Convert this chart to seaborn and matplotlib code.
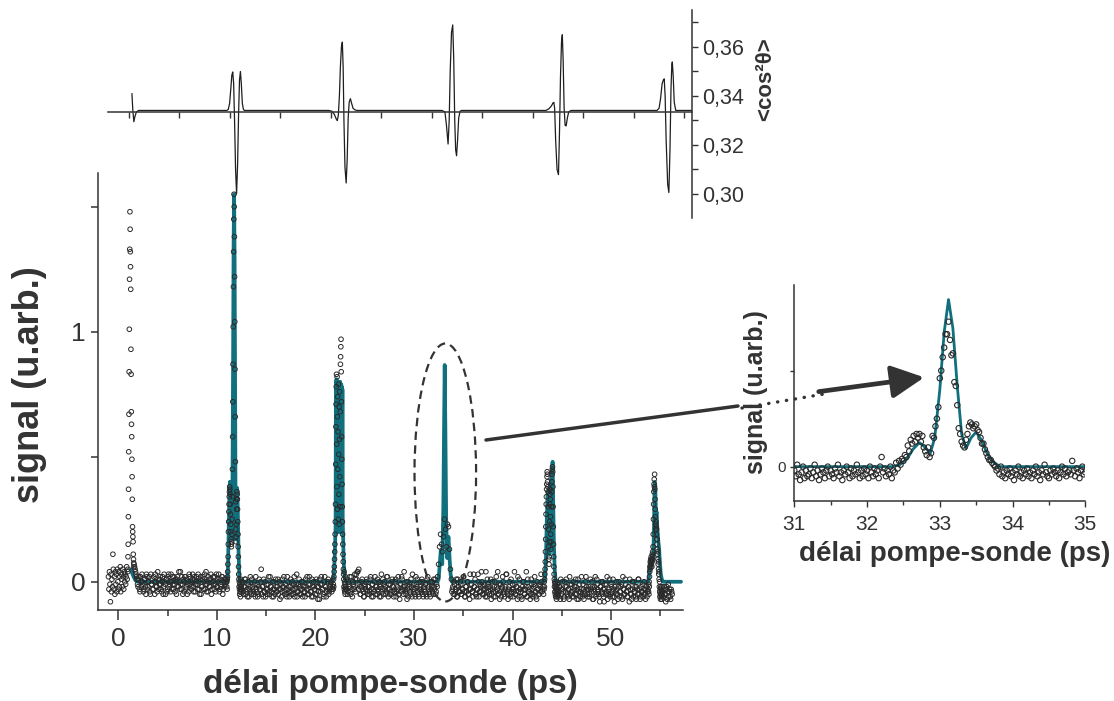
import numpy as np
import matplotlib
matplotlib.use("Agg")
import matplotlib.pyplot as plt
from matplotlib.patches import Ellipse, FancyArrowPatch
from matplotlib.lines import Line2D
from matplotlib.ticker import MultipleLocator, FixedLocator, FuncFormatter, NullFormatter
import seaborn as sns
import pandas as pd

# ---------------------------------------------------------------- data
# Pump-probe scan, stored as blocks: each block starts at a delay (ps),
# uses a fixed step (ps) and holds the measured signal values.
pre_zero = [0.02, -0.03, 0.04, -0.01, -0.08, 0.03, -0.04, 0.01, -0.02, 0.11,
            0.05, -0.03, 0.02, -0.05, 0.04, -0.01, 0.03, -0.04, 0.05, 0.00,
            -0.03, 0.04, -0.02, 0.02, 0.06, -0.04, 0.03, 0.01, -0.02, 0.05,
            0.02, -0.03, 0.04, 0.00, 0.03, -0.01, 0.02, 0.06, 0.01, 0.04]
zero_spike = [0.05, 0.10, 0.15, 0.26, 0.37, 0.52, 0.67, 0.84, 1.01, 1.21,
              1.33, 1.48, 1.41, 1.32, 1.26, 1.17, 0.93, 0.83, 0.68, 0.63,
              0.58, 0.49, 0.42, 0.33, 0.22, 0.20, 0.18, 0.16, 0.11, 0.09,
              0.075, 0.06]
base_1 = [0.07, 0.05, 0.03, 0.01, -0.02, 0.02, -0.04, 0.00, 0.03, -0.01,
          -0.03, 0.01, -0.05, 0.02, -0.02, 0.00, -0.04, 0.03, -0.01, -0.03,
          0.02, -0.05, 0.00, -0.02, 0.04, -0.03, 0.01, -0.01, -0.04, 0.02,
          -0.02, 0.00, -0.05, 0.01, -0.03, 0.03, -0.01, -0.04, 0.00, 0.02,
          -0.03, -0.01, 0.01, -0.05, 0.02, -0.02, 0.00, 0.04, -0.03, -0.01,
          0.01, -0.04, 0.02, -0.02, -0.05, 0.00, 0.03, -0.01, -0.03, 0.01,
          -0.02, 0.02, -0.04, 0.00, -0.01, 0.03, -0.03, 0.01, -0.05, -0.02,
          0.02, 0.00, -0.03, 0.04, -0.01, -0.04, 0.01, -0.02, 0.03, -0.03,
          0.00, -0.01, 0.02, -0.04, -0.02, 0.01, 0.03, -0.03, -0.01, 0.02,
          -0.05, 0.00, -0.02, 0.01]
base_1b = [0.06, 0.04, 0.02, -0.01, 0.01, -0.03, 0.02, -0.02, 0.00, -0.04,
           0.01, -0.02, 0.03, -0.03, 0.00, 0.02, -0.05, -0.01, 0.01, -0.03,
           0.00, 0.03, -0.02, -0.04, 0.01, -0.01, 0.02, -0.03, 0.00, -0.05,
           0.03, -0.01, 0.01, -0.04, 0.02, -0.02, 0.00, 0.03, -0.03, -0.01,
           0.02, -0.04, 0.00, 0.01, -0.02, 0.04, -0.03, -0.01, 0.02, -0.05,
           0.00, 0.02, -0.03, 0.01, -0.01, -0.04, 0.02, 0.00, -0.02, 0.03,
           -0.04, 0.01, -0.01, 0.02, -0.03, 0.00, -0.05, 0.02, -0.02, 0.01,
           -0.03, 0.03, -0.01, -0.04, 0.00, 0.02, -0.02, 0.01, -0.05, 0.00,
           0.02, -0.03, -0.01, 0.03, -0.02, 0.00, -0.04, 0.01, -0.02, 0.02,
           -0.03, 0.01, -0.01, 0.00]
rev_1 = [-0.02, 0.00, -0.03, 0.01, 0.02, 0.04, 0.07, 0.10, 0.15, 0.20,
         0.24, 0.28, 0.31, 0.34, 0.36, 0.38, 0.37, 0.35, 0.31, 0.27,
         0.23, 0.20, 0.17, 0.15, 0.14, 0.16, 0.19, 0.25, 0.34, 0.45,
         0.58, 0.72, 0.87, 1.02, 1.18, 1.32, 1.45, 1.55, 1.50, 1.38,
         1.22, 1.04, 0.85, 0.66, 0.48, 0.32, 0.21, 0.16, 0.18, 0.23,
         0.29, 0.33, 0.36, 0.35, 0.33, 0.29, 0.24, 0.19, 0.14, 0.10,
         0.06, 0.03, 0.01, -0.02, 0.00, -0.03, -0.05, -0.01, -0.04, -0.02,
         -0.06, -0.03, 0.01, -0.04, -0.02]
base_2 = [-0.03, 0.00, -0.05, -0.02, 0.01, -0.04, -0.06, -0.01, -0.03, 0.02,
          -0.05, -0.02, -0.04, 0.00, -0.06, -0.03, -0.01, -0.05, 0.01, -0.03,
          0.05, -0.02, -0.06, -0.04, 0.00, -0.03, -0.05, -0.01, -0.04, 0.02,
          -0.02, -0.06, -0.03, 0.00, -0.05, -0.02, -0.04, 0.01, -0.03, -0.07,
          -0.01, -0.04, -0.02, 0.02, -0.05, -0.03, -0.06, 0.00, -0.02, -0.04,
          0.01, -0.05, -0.03, -0.01, -0.06, -0.02, 0.03, -0.04, -0.01, -0.05,
          -0.03, 0.00, -0.06, -0.02, -0.04, 0.01, -0.03, -0.05, -0.01, 0.02,
          -0.04, -0.06, -0.02, 0.00, -0.03, -0.05, 0.01, -0.02, -0.04, -0.07,
          -0.01, 0.02, -0.03, -0.05, 0.00, -0.02, -0.06, -0.03, 0.01, -0.04,
          -0.02, 0.00, -0.03]
base_2b = [-0.01, -0.04, -0.02, 0.01, -0.05, -0.03, 0.00, -0.06, -0.02, -0.04,
           0.01, -0.03, -0.05, -0.01, 0.02, -0.04, -0.06, -0.02, -0.03, 0.00,
           -0.05, -0.02, 0.01, -0.04, -0.06, -0.01, -0.03, 0.02, -0.05, -0.02,
           -0.04, 0.00, -0.06, -0.03, 0.01, -0.04, -0.02, -0.05, 0.00, -0.03,
           -0.06, 0.01, -0.02, -0.04, -0.01, -0.05, 0.02, -0.03, -0.06, -0.02,
           -0.04, 0.00, -0.05, 0.02, -0.03, -0.01, -0.06, -0.04, 0.01, -0.02,
           -0.05, -0.03, 0.00, -0.04, -0.06, -0.02, 0.02, -0.03, -0.05, -0.01,
           -0.04, 0.01, -0.06, -0.02, -0.03, 0.00, -0.05, -0.07, -0.02, 0.01,
           -0.04, -0.01, -0.03, -0.06, 0.02, -0.02, -0.04, 0.00, -0.05, -0.03,
           -0.01, -0.04, -0.02]
rev_2 = [-0.03, -0.01, 0.01, -0.02, 0.02, 0.04, 0.06, 0.09, 0.12, 0.15,
         0.19, 0.24, 0.31, 0.47, 0.62, 0.71, 0.78, 0.83, 0.55, 0.38,
         0.82, 0.66, 0.29, 0.74, 0.45, 0.60, 0.25, 0.79, 0.51, 0.35,
         0.70, 0.23, 0.57, 0.76, 0.42, 0.30, 0.68, 0.87, 0.90, 0.94,
         0.97, 0.84, 0.72, 0.58, 0.49, 0.39, 0.30, 0.24, 0.19, 0.15,
         0.11, 0.08, 0.05, 0.03, 0.01, -0.02, 0.04, -0.03, 0.00, -0.04,
         -0.01, -0.05, -0.02, 0.02, -0.03]
base_3 = [-0.02, 0.01, -0.04, -0.01, 0.02, -0.05, -0.03, 0.00, -0.02, 0.03,
          -0.04, 0.01, 0.04, 0.05, -0.02, -0.05, 0.00, -0.03, -0.06, -0.01,
          -0.03, 0.01, -0.05, -0.02, -0.04, 0.02, -0.06, -0.01, -0.03, 0.00,
          -0.05, -0.02, 0.01, -0.04, -0.06, -0.01, 0.03, -0.03, -0.05, 0.00,
          -0.02, -0.04, 0.02, -0.06, -0.03, -0.01, -0.05, 0.01, -0.02, -0.04,
          0.00, -0.06, -0.03, 0.02, -0.05, -0.01, -0.04, 0.01, -0.02, 0.04,
          -0.03, -0.05, -0.07, 0.00, -0.02, -0.04, 0.01, -0.06, -0.03, -0.01,
          -0.05, 0.02, -0.02, -0.04, -0.06, 0.00, -0.03, 0.01, -0.05, -0.02,
          -0.04, -0.01, -0.06, 0.02, -0.03, -0.05, 0.00, -0.02, -0.04, 0.01,
          -0.03, -0.05, -0.01, 0.02, 0.07, 0.14, 0.19, 0.15, 0.12, 0.18,
          0.25, 0.21, 0.14, 0.23, 0.22, 0.13, 0.05, 0.01, -0.03, -0.05,
          -0.01, -0.04, 0.01, -0.06, -0.02, -0.04, 0.00, -0.05, -0.03, 0.02,
          -0.04, -0.06, -0.02, 0.00, -0.05, -0.03, 0.03, -0.01, -0.04, -0.06,
          -0.02, 0.01, -0.05, -0.03, 0.03, -0.06, -0.01, -0.04, 0.00, -0.02,
          -0.05, -0.03, 0.04, -0.06, -0.01, -0.04, -0.02, 0.01, -0.05, -0.03,
          -0.06, 0.00, -0.04, -0.02, 0.04, -0.05, -0.07, -0.01, -0.03, 0.02,
          -0.04, -0.06, -0.02, 0.03, -0.05, -0.03, 0.00, -0.06, -0.04, -0.01,
          -0.03, 0.04, -0.05, -0.02, -0.07, -0.04, 0.01, -0.03, -0.06, -0.02,
          0.00, -0.05, -0.03, 0.04, -0.06, -0.02, -0.04, -0.07, 0.01, -0.03,
          -0.05, -0.01, -0.04, -0.06, 0.00, -0.03, -0.05, -0.02, 0.03, -0.04,
          -0.02]
base_3b = [-0.03, -0.05, 0.00, -0.02, -0.04, 0.02, -0.06, -0.01, -0.03, 0.01,
           0.03, 0.04, -0.03, -0.01, -0.05, -0.02, 0.01, -0.04, -0.06, -0.02,
           0.00, -0.04, -0.02, -0.05, 0.01, -0.03, -0.01, -0.06, -0.04, 0.02,
           -0.02, -0.05, -0.03, 0.00, -0.02, -0.06, -0.04, 0.01, -0.01, -0.03,
           -0.05, 0.02, -0.03, -0.01, -0.05, -0.04, 0.00, -0.02, -0.06, -0.03,
           0.01, -0.04, -0.02, -0.05, -0.07, -0.01, 0.02, -0.03, -0.05, -0.02,
           -0.04, 0.00, -0.03, -0.06, -0.01, -0.05, -0.02, 0.03, -0.04, -0.03,
           -0.06, -0.01, 0.01, -0.05, -0.03, -0.02, -0.04, 0.00, -0.06, -0.03,
           -0.01, -0.05, 0.01, -0.02, -0.04, -0.06, -0.03, 0.00, -0.05, -0.02,
           0.01, -0.04, -0.02]
base_3c = [-0.04, -0.02, 0.00, -0.05, -0.03, -0.06, 0.01, -0.02, -0.04, -0.01,
           -0.05, -0.03, 0.02, -0.06, -0.02, -0.04, 0.00, -0.05, -0.07, -0.03,
           -0.01, -0.04, 0.03, -0.02, -0.05, -0.06, -0.03, 0.00, -0.04, -0.02,
           0.04, -0.05, -0.03, -0.01, -0.06, -0.04, 0.01, -0.02, -0.05, -0.03,
           -0.07, 0.00, -0.04, -0.02, -0.06, 0.02, -0.03, -0.05, -0.01, -0.04,
           -0.06, -0.02, 0.00, -0.05, -0.03, 0.03, -0.04, -0.07, -0.02, -0.05,
           0.01, -0.03, -0.06, -0.04, -0.01, -0.05, -0.02, 0.02, -0.06, -0.03,
           -0.04, -0.07, 0.00, -0.03, -0.05, -0.02, -0.06, 0.01, -0.04, -0.03,
           -0.05, -0.01, -0.06, -0.02, 0.02, -0.04, -0.07, -0.03, -0.05, -0.01,
           -0.04, 0.00, -0.03, -0.05]
rev_4 = [-0.03, 0.00, -0.02, 0.01, 0.03, 0.05, 0.08, 0.12, 0.17, 0.22,
         0.27, 0.31, 0.34, 0.37, 0.39, 0.42, 0.44, 0.43, 0.40, 0.38,
         0.36, 0.30, 0.21, 0.14, 0.09, 0.07, 0.10, 0.16, 0.24, 0.31,
         0.35, 0.37, 0.33, 0.26, 0.19, 0.13, 0.16, 0.23, 0.30, 0.36,
         0.40, 0.43, 0.45, 0.46, 0.44, 0.38, 0.30, 0.22, 0.15, 0.10,
         0.06, 0.03, 0.01, -0.02, 0.00, -0.04, -0.01, -0.05, -0.02, -0.06,
         -0.03, 0.00, -0.04, -0.07, -0.02, -0.05, -0.03, -0.06, -0.01, -0.04]
base_4 = [-0.04, -0.06, -0.02, 0.01, -0.05, -0.03, -0.07, 0.00, -0.04, -0.02,
          -0.06, -0.03, 0.02, -0.05, -0.01, -0.04, -0.06, -0.02, 0.01, -0.05,
          -0.03, -0.07, -0.01, -0.04, 0.02, -0.06, -0.03, -0.05, 0.00, -0.02,
          -0.05, -0.03, -0.06, 0.01, -0.04, -0.02, -0.07, -0.03, 0.02, -0.05,
          -0.01, -0.04, -0.06, -0.02, 0.00, -0.05, -0.03, -0.08, -0.01, -0.04,
          0.02, -0.05, -0.03, -0.06, -0.01, -0.04, 0.01, -0.06, -0.02, -0.05,
          -0.03, -0.07, 0.00, -0.04, -0.02, -0.06, 0.02, -0.03, -0.05, -0.01,
          -0.04, -0.06, -0.02, 0.01, -0.05, -0.07, -0.03, 0.00, -0.04, -0.06,
          -0.02, -0.05, 0.01, -0.03, -0.06, -0.04, -0.01, -0.05, -0.03, -0.07,
          -0.02, -0.04]
base_4b = [-0.05, -0.02, -0.07, -0.03, 0.00, -0.04, -0.06, -0.02, 0.01, -0.05,
           -0.03, -0.07, -0.01, -0.04, -0.06, 0.00, -0.03, -0.05, -0.02, -0.07,
           0.01, -0.04, -0.06, -0.03, -0.05, -0.01, -0.07, -0.04, 0.02, -0.03,
           -0.06, -0.02, -0.05, -0.03, 0.00, -0.07, -0.04, -0.02, -0.06, 0.01,
           -0.03, -0.05, -0.08, -0.02, -0.04, 0.00, -0.06, -0.03, -0.05, -0.01,
           -0.07, -0.04, 0.01, -0.05, -0.02, -0.06, -0.03, -0.08, -0.04, 0.00,
           -0.05, -0.02, -0.06, -0.04, -0.01, -0.07, -0.03, -0.05, 0.01, -0.04,
           -0.06, -0.02, -0.08, -0.03, -0.05, 0.00, -0.06, -0.04, -0.02, -0.07,
           -0.03, 0.01, -0.05, -0.07, -0.02, -0.04, -0.06, 0.00, -0.05, -0.03,
           -0.06, -0.03]
rev_5 = [-0.04, -0.01, -0.05, 0.00, -0.02, 0.02, 0.04, 0.06, 0.05, 0.08,
         0.07, 0.09, 0.06, 0.08, 0.10, 0.07, 0.09, 0.06, 0.08, 0.11,
         0.09, 0.12, 0.10, 0.14, 0.19, 0.25, 0.31, 0.36, 0.39, 0.41,
         0.38, 0.43, 0.37, 0.33, 0.29, 0.26, 0.23, 0.21, 0.24, 0.22,
         0.19, 0.21, 0.17, 0.15, 0.17, 0.13, 0.11, 0.12, 0.09, 0.07,
         0.08, 0.05, 0.03, 0.04, 0.01, -0.02, 0.00, -0.04, -0.06, -0.03,
         -0.05, -0.07, -0.02, -0.05, -0.03, -0.06, -0.04, -0.07, -0.02, -0.05]
base_5 = [-0.04, -0.06, -0.02, -0.05, -0.03, -0.07, -0.01, -0.04, -0.06, -0.03, -0.05]
base_5b = [-0.06, -0.03, -0.05, -0.08, -0.02, -0.04, -0.06, -0.03, -0.07, -0.04]

scan_blocks = [pre_zero, zero_spike, base_1, base_1b, rev_1, base_2, base_2b, rev_2,
               base_3, base_3b, base_3c, rev_4, base_4, base_4b, rev_5, base_5, base_5b]
scan_starts = [-1.00, 0.96, 1.60, 1.65, 11.00, 12.50, 12.55, 21.80,
               23.10, 23.15, 33.85, 43.20, 44.60, 44.65, 53.80, 55.20, 55.25]
scan_steps = [0.05, 0.02, 0.10, 0.10, 0.02, 0.10, 0.10, 0.02,
              0.10, 0.10, 0.10, 0.02, 0.10, 0.10, 0.02, 0.10, 0.10]

# Fitted signal (vertices of the model curve)
fit_t = [1.30, 1.40, 1.55, 1.75, 1.95, 11.05, 11.12, 11.20, 11.28, 11.33, 11.38,
         11.45, 11.52, 11.58, 11.65, 11.70, 11.75, 11.80, 11.85, 11.90, 11.95,
         12.01, 12.06, 12.12, 12.20, 12.28, 12.35,
         21.75, 21.85, 21.95, 22.02, 22.05, 22.08, 22.11, 22.14, 22.17, 22.20,
         22.23, 22.26, 22.29, 22.32, 22.35, 22.38, 22.41, 22.44, 22.47, 22.50,
         22.53, 22.56, 22.59, 22.62, 22.65, 22.68, 22.71, 22.74, 22.77, 22.80,
         22.86, 22.92, 23.00, 23.10,
         32.40, 32.50, 32.60, 32.72, 32.87, 32.98, 33.05, 33.12, 33.19, 33.27,
         33.36, 33.50, 33.62, 33.72, 33.85,
         43.20, 43.30, 43.40, 43.48, 43.55, 43.60, 43.65, 43.70, 43.75, 43.80,
         43.85, 43.90, 43.95, 44.00, 44.07, 44.13, 44.20, 44.28, 44.36, 44.45,
         53.75, 53.85, 53.95, 54.02, 54.15, 54.28, 54.35, 54.42, 54.48, 54.56,
         54.62, 54.70, 54.80, 54.88, 54.95, 55.05, 55.15, 55.30, 57.10]
fit_v = [0.05, 0.035, 0.02, 0.005, 0.0, 0.0, 0.04, 0.20, 0.36, 0.40, 0.33,
         0.20, 0.17, 0.35, 0.90, 1.35, 1.55, 1.30, 0.80, 0.25, 0.17,
         0.30, 0.375, 0.30, 0.12, 0.02, 0.0,
         0.0, 0.02, 0.09, 0.18, 0.22, 0.80, 0.21, 0.81, 0.20, 0.80,
         0.21, 0.80, 0.20, 0.80, 0.21, 0.80, 0.20, 0.80, 0.21, 0.80,
         0.20, 0.79, 0.21, 0.79, 0.22, 0.78, 0.24, 0.77, 0.25, 0.20,
         0.10, 0.04, 0.01, 0.0,
         0.0, 0.01, 0.06, 0.125, 0.07, 0.30, 0.60, 0.867, 0.60, 0.25,
         0.095, 0.18, 0.09, 0.03, 0.0,
         0.0, 0.02, 0.10, 0.25, 0.34, 0.36, 0.12, 0.37, 0.11, 0.39,
         0.13, 0.41, 0.18, 0.44, 0.48, 0.32, 0.15, 0.05, 0.01, 0.0,
         0.0, 0.02, 0.06, 0.08, 0.08, 0.09, 0.20, 0.40, 0.39, 0.26,
         0.28, 0.21, 0.16, 0.13, 0.08, 0.03, 0.01, 0.0, 0.0]

# Fine scan around the third revival (31-35 ps, 0.02 ps step)
zoom_start, zoom_step = 31.0, 0.02
zoom_signal = [-0.02, -0.05, 0.01, -0.04, -0.07, -0.03, 0.00, -0.06, -0.02, -0.05,
               -0.04, -0.01, -0.06, -0.03, 0.01, -0.05, -0.02, -0.07, -0.04, -0.01,
               -0.03, -0.06, -0.02, 0.00, -0.05, -0.02, -0.04, -0.06, -0.01, -0.03,
               0.01, -0.05, -0.03, -0.07, -0.02, -0.04, 0.00, -0.03, -0.06, -0.01,
               -0.05, -0.02, -0.04, 0.01, -0.03, -0.06, -0.02, -0.05, -0.01, -0.04,
               -0.02, -0.06, 0.00, -0.03, -0.05, -0.01, -0.04, -0.02, -0.06, 0.00,
               0.05, -0.03, -0.01, -0.05, -0.02, -0.04, 0.00, -0.06, -0.02, -0.03,
               0.02, -0.01, 0.03, 0.01, 0.04, 0.03, 0.06, 0.05, 0.11, 0.08,
               0.14, 0.12, 0.16, 0.13, 0.17, 0.15, 0.17, 0.13, 0.16, 0.10,
               0.08, 0.06, 0.10, 0.05, 0.07, 0.16, 0.15, 0.21, 0.25, 0.31,
               0.46, 0.50, 0.57, 0.62, 0.69, 0.69, 0.755, 0.66, 0.58, 0.59,
               0.44, 0.42, 0.32, 0.20, 0.17, 0.13, 0.11, 0.10, 0.14, 0.17,
               0.21, 0.23, 0.22, 0.20, 0.21, 0.22, 0.19, 0.18, 0.15, 0.12,
               0.12, 0.09, 0.07, 0.05, 0.035, 0.035, 0.02, 0.01, 0.00, -0.02,
               -0.01, -0.04, 0.00, -0.05, -0.03, -0.06, -0.02, -0.04, -0.01, -0.05,
               -0.03, -0.07, -0.02, -0.04, 0.00, -0.05, -0.03, -0.06, -0.02, -0.04,
               -0.01, -0.05, -0.03, -0.06, -0.02, -0.04, 0.00, -0.05, -0.03, -0.07,
               -0.02, -0.04, 0.01, -0.03, -0.05, -0.06, -0.02, -0.04, -0.01, -0.03,
               -0.05, -0.02, -0.06, -0.03, 0.00, -0.04, -0.01, -0.05, -0.03, -0.02,
               -0.04, 0.03, -0.02, -0.05, -0.01, -0.03, -0.06, -0.02, 0.00, -0.04,
               -0.03]
zoom_fit_t = [31.00, 32.35, 32.45, 32.55, 32.63, 32.72, 32.80, 32.87, 32.93, 33.00,
              33.06, 33.12, 33.18, 33.24, 33.30, 33.36, 33.43, 33.50, 33.57, 33.65,
              33.73, 33.83, 35.00]
zoom_fit_v = [0.0, 0.0, 0.01, 0.04, 0.09, 0.125, 0.10, 0.07, 0.15, 0.40,
              0.70, 0.87, 0.72, 0.42, 0.17, 0.095, 0.15, 0.18, 0.14, 0.07,
              0.025, 0.0, 0.0]

# Alignment <cos^2 theta> computed over the same delay range
cos_t = [0.31, 0.40, 0.50, 0.60, 0.75, 0.96,
         9.70, 9.85, 9.98, 10.10, 10.20, 10.29, 10.38, 10.47, 10.57, 10.67, 10.77,
         10.87, 10.96, 11.05, 11.14, 11.24, 11.35, 11.45,
         19.80, 20.10, 20.35, 20.55, 20.64, 20.74, 20.85, 20.95, 21.05, 21.14, 21.22,
         21.30, 21.40, 21.52, 21.62, 21.72, 21.82, 21.94, 22.06, 22.20, 22.40, 22.60,
         31.00, 31.30, 31.45, 31.61, 31.72, 31.82, 31.95, 32.07, 32.17, 32.27, 32.36,
         32.45, 32.55, 32.66, 32.80, 32.94,
         41.30, 41.60, 41.85, 42.00, 42.08, 42.16, 42.26, 42.40, 42.54, 42.64, 42.74,
         42.84, 42.92, 43.00, 43.10, 43.20, 43.30, 43.42, 43.55, 43.79,
         52.30, 52.50, 52.65, 52.80, 52.92, 53.01, 53.10, 53.20, 53.35, 53.47, 53.58,
         53.68, 53.76, 53.81, 53.90, 54.00, 54.15, 55.76]
cos_v = [0.3410, 0.3340, 0.3295, 0.3315, 0.3335, 0.3341,
         0.3341, 0.3345, 0.3370, 0.3430, 0.3485, 0.3498, 0.3450, 0.3300, 0.3100, 0.3001, 0.3120,
         0.3330, 0.3465, 0.3500, 0.3450, 0.3370, 0.3345, 0.3341,
         0.3341, 0.3338, 0.3325, 0.3305, 0.3300, 0.3320, 0.3400, 0.3520, 0.3600, 0.3620, 0.3520,
         0.3300, 0.3110, 0.3045, 0.3140, 0.3310, 0.3375, 0.3389, 0.3370, 0.3350, 0.3343, 0.3341,
         0.3341, 0.3335, 0.3280, 0.3204, 0.3300, 0.3500, 0.3660, 0.3690, 0.3550, 0.3300, 0.3180,
         0.3156, 0.3220, 0.3310, 0.3338, 0.3341,
         0.3341, 0.3348, 0.3360, 0.3372, 0.3374, 0.3350, 0.3220, 0.3100, 0.3079, 0.3250, 0.3480,
         0.3620, 0.3650, 0.3550, 0.3350, 0.3280, 0.3278, 0.3310, 0.3335, 0.3341,
         0.3341, 0.3350, 0.3390, 0.3450, 0.3465, 0.3470, 0.3400, 0.3220, 0.3040, 0.3006, 0.3180,
         0.3430, 0.3525, 0.3539, 0.3480, 0.3375, 0.3341, 0.3341]

# ---------------------------------------------------------------- style
sns.set_style("ticks")
plt.rcParams["font.family"] = ["Liberation Sans", "DejaVu Sans"]
INK = "#333333"
TEAL = "#11707e"
plt.rcParams.update({
    "axes.edgecolor": INK, "xtick.color": INK, "ytick.color": INK,
    "text.color": INK, "axes.labelcolor": INK, "axes.linewidth": 1.1,
})

W, H = 1114, 701
fig = plt.figure(figsize=(W / 100, H / 100), dpi=100)


def px_rect(left, top, right, bottom):
    return [left / W, 1 - bottom / H, (right - left) / W, (bottom - top) / H]


def px_pt(x, y):
    return (x / W, 1 - y / H)


# ---------------------------------------------------------------- main scan
scan = pd.concat(
    [pd.DataFrame({"delay": s0 + st * np.arange(len(v)), "signal": v})
     for v, s0, st in zip(scan_blocks, scan_starts, scan_steps)],
    ignore_index=True)
fit = pd.DataFrame({"delay": fit_t, "signal": fit_v})

ax = fig.add_axes(px_rect(98, 173, 683, 610))
ax.set_facecolor("none")
sns.lineplot(data=fit, x="delay", y="signal", ax=ax, color=TEAL, lw=2.7,
             estimator=None, sort=False, zorder=2)
sns.scatterplot(data=scan, x="delay", y="signal", ax=ax, marker="o", s=11,
                facecolors="none", edgecolor="#2a2a2a", linewidth=0.7, zorder=3)
ax.set_xlim(-2.06, 57.3)
ax.set_ylim(-0.113, 1.635)
sns.despine(ax=ax)
ax.xaxis.set_major_locator(MultipleLocator(10))
ax.xaxis.set_minor_locator(MultipleLocator(5))
ax.yaxis.set_major_locator(MultipleLocator(1))
ax.yaxis.set_minor_locator(MultipleLocator(0.5))
ax.tick_params(axis="x", which="major", length=7, width=1.1, labelsize=19, pad=5)
ax.tick_params(axis="x", which="minor", length=4, width=1.1)
ax.tick_params(axis="y", which="major", length=5, width=1.1, labelsize=19, pad=4)
ax.tick_params(axis="y", which="minor", length=5, width=1.1)
ax.set_xlabel("délai pompe-sonde (ps)", fontsize=24, fontweight="bold")
ax.set_ylabel("signal (u.arb.)", fontsize=26, fontweight="bold")
ax.xaxis.set_label_coords(0.5, -0.135)
ax.yaxis.set_label_coords(-0.088, 0.515)

# highlighted revival
ax.add_patch(Ellipse((33.18, 0.437), width=6.25, height=1.032, fill=False,
                     ec=INK, lw=1.6, ls=(0, (3.8, 2.4)), zorder=4))

# ---------------------------------------------------------------- <cos^2>
ax_top = fig.add_axes(px_rect(108, 10, 692, 218))
ax_top.set_facecolor("none")
sns.lineplot(x=cos_t, y=cos_v, ax=ax_top, color="#1e1e1e", lw=0.9,
             estimator=None, sort=False)
ax_top.set_xlim(-2.06, 55.76)
ax_top.set_ylim(0.2902, 0.3751)
for side in ("left", "top"):
    ax_top.spines[side].set_visible(False)
ax_top.spines["bottom"].set_position(("data", 1 / 3))
ax_top.spines["bottom"].set_linewidth(1.1)
ax_top.xaxis.set_major_locator(MultipleLocator(5))
ax_top.xaxis.set_major_formatter(NullFormatter())
ax_top.tick_params(axis="x", which="major", length=4, width=1.0, direction="out")
ax_top.yaxis.tick_right()
ax_top.yaxis.set_major_locator(FixedLocator([0.30, 0.32, 0.34, 0.36]))
ax_top.yaxis.set_minor_locator(FixedLocator([0.29, 0.31, 0.33, 0.35, 0.37]))
ax_top.yaxis.set_major_formatter(FuncFormatter(lambda v, p: f"{v:.2f}".replace(".", ",")))
ax_top.tick_params(axis="y", which="both", length=4, width=1.0, labelsize=15.5, pad=3)
ax_top.yaxis.set_label_position("right")
ax_top.set_ylabel("<cos²θ>", fontsize=16, fontweight="bold")
ax_top.yaxis.set_label_coords(1.108, 0.668)
ax_top.set_xlabel("")

# ---------------------------------------------------------------- inset
zoom_df = pd.DataFrame({"delay": zoom_start + zoom_step * np.arange(len(zoom_signal)),
                        "signal": zoom_signal})
ax_in = fig.add_axes(px_rect(794.3, 285, 1085.3, 501))
ax_in.set_facecolor("none")
sns.lineplot(x=zoom_fit_t, y=zoom_fit_v, ax=ax_in, color=TEAL, lw=2.0,
             estimator=None, sort=False, zorder=2)
sns.scatterplot(data=zoom_df, x="delay", y="signal", ax=ax_in, marker="o", s=15,
                facecolors="none", edgecolor="#2a2a2a", linewidth=0.8, zorder=3)
ax_in.set_xlim(31, 35)
ax_in.set_ylim(-0.179, 0.946)
sns.despine(ax=ax_in)
ax_in.xaxis.set_major_locator(MultipleLocator(1))
ax_in.xaxis.set_minor_locator(MultipleLocator(0.5))
ax_in.yaxis.set_major_locator(FixedLocator([0, 0.5]))
ax_in.yaxis.set_major_formatter(FuncFormatter(lambda v, p: "0" if abs(v) < 1e-9 else ""))
ax_in.tick_params(axis="x", which="major", length=4, width=1.0, labelsize=15, pad=6)
ax_in.tick_params(axis="x", which="minor", length=3, width=1.0)
ax_in.tick_params(axis="y", which="major", length=3, width=1.0, labelsize=11, pad=3)
ax_in.set_xlabel("délai pompe-sonde (ps)", fontsize=20, fontweight="bold")
ax_in.set_ylabel("signal (u.arb.)", fontsize=18, fontweight="bold")
ax_in.xaxis.set_label_coords(0.552, -0.185)
ax_in.yaxis.set_label_coords(-0.09, 0.505)

# ---------------------------------------------------------------- pointer
fig.add_artist(Line2D([486 / W, 738 / W], [1 - 440 / H, 1 - 406 / H],
                      transform=fig.transFigure, color=INK, lw=2.5, zorder=5))
fig.add_artist(Line2D([742 / W, 830 / W], [1 - 408 / H, 1 - 393 / H],
                      transform=fig.transFigure, color=INK, lw=2.4,
                      ls=(0, (0.1, 2.6)), dash_capstyle="round", zorder=5))
fig.add_artist(FancyArrowPatch(px_pt(816, 392), px_pt(927, 377),
                               transform=fig.transFigure,
                               arrowstyle="-|>,head_length=0.8,head_width=0.4",
                               mutation_scale=25, lw=3.4, color=INK, zorder=5))

fig.savefig("out.png", dpi=100)
